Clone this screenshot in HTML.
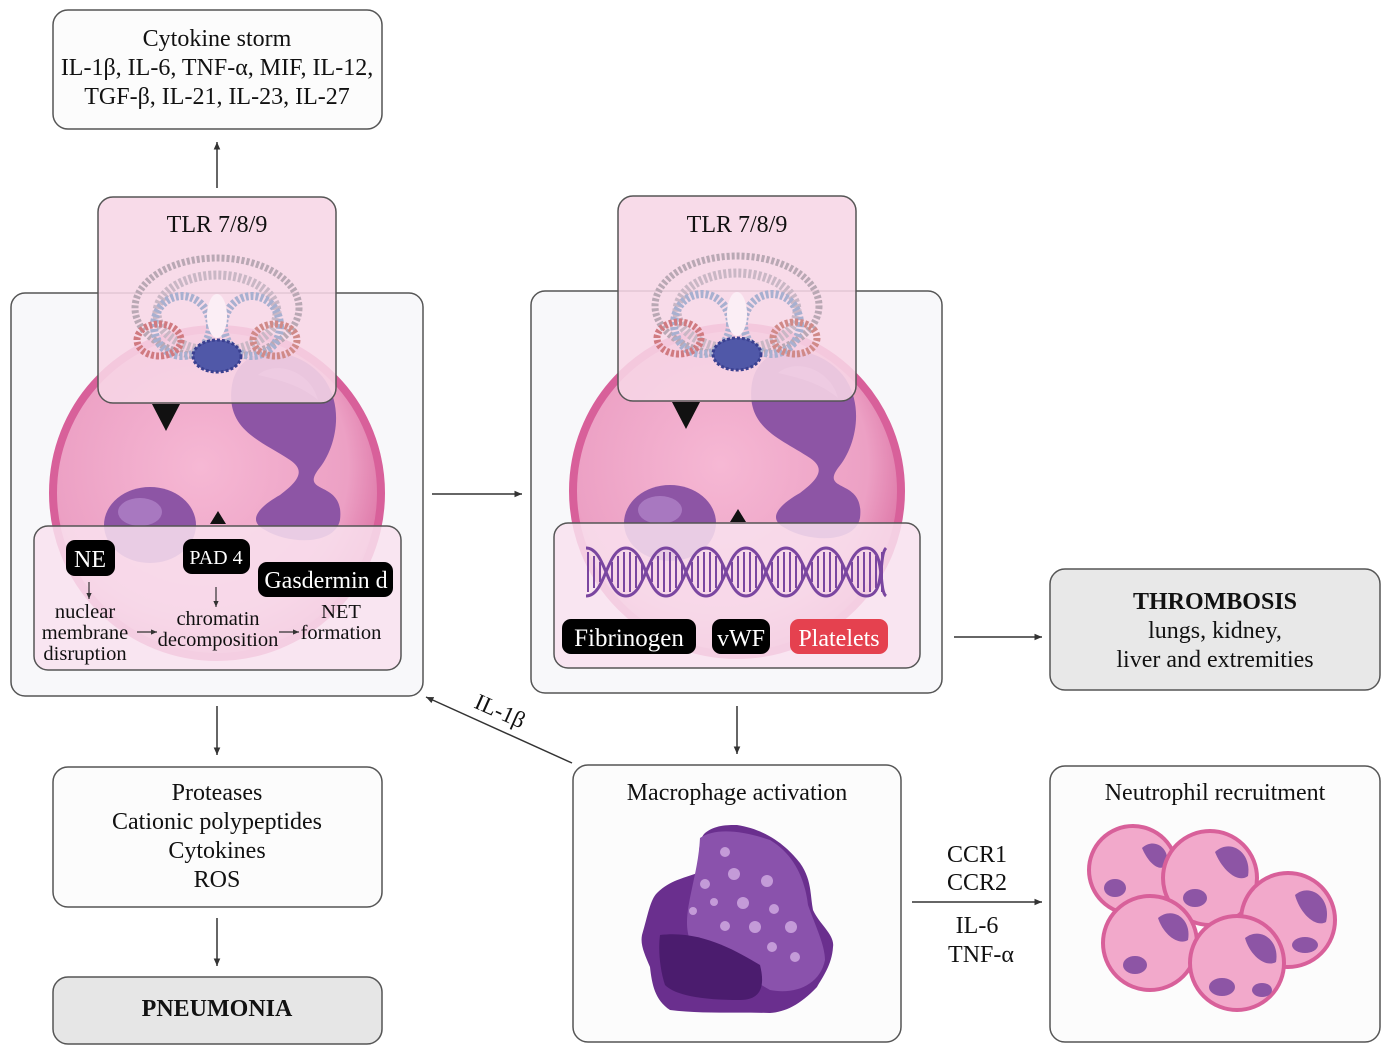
<!DOCTYPE html>
<html><head><meta charset="utf-8"><style>
html,body{margin:0;padding:0;background:#fff;}
svg{display:block;}
text{font-family:"Liberation Serif",serif;fill:#111;}
</style></head><body>
<svg width="1388" height="1050" viewBox="0 0 1388 1050" xmlns="http://www.w3.org/2000/svg">
<defs>
<marker id="ah" markerWidth="6" markerHeight="6" refX="5" refY="3" orient="auto"><path d="M0,0.8 L5,3 L0,5.2z" fill="#333"/></marker>
<radialGradient id="cellg" cx="0.45" cy="0.42" r="0.6"><stop offset="0" stop-color="#f6b8d4"/><stop offset="0.75" stop-color="#eca0c4"/><stop offset="1" stop-color="#db6fa2"/></radialGradient>
<g id="cell">
<circle cx="217" cy="493" r="164" fill="url(#cellg)"/>
<circle cx="217" cy="493" r="164" fill="none" stroke="#d8609a" stroke-width="8"/>
<path d="M232,385 C240,340 300,345 325,380 C345,410 335,450 318,470 C300,495 345,480 340,520 C335,545 290,545 265,530 C245,520 262,505 280,495 C300,480 305,470 290,460 C260,440 225,430 232,385z" fill="#8d55a5"/>
<path d="M258,375 C275,360 310,370 318,400 C300,385 280,380 258,375z" fill="#a878c0"/>
<ellipse cx="150" cy="525" rx="46" ry="38" fill="#8d55a5"/>
<ellipse cx="140" cy="512" rx="22" ry="14" fill="#a878c0"/>
</g>
<g id="tlr">
<ellipse cx="0" cy="0" rx="82" ry="50" fill="none" stroke="#b9a8b4" stroke-width="7" stroke-dasharray="3 2"/>
<ellipse cx="0" cy="5" rx="60" ry="38" fill="none" stroke="#c9b7c5" stroke-width="9" stroke-dasharray="3 2"/>
<ellipse cx="-35" cy="18" rx="28" ry="30" fill="none" stroke="#a8b0d0" stroke-width="8" stroke-dasharray="3 2"/>
<ellipse cx="35" cy="18" rx="28" ry="30" fill="none" stroke="#a8b0d0" stroke-width="8" stroke-dasharray="3 2"/>
<ellipse cx="-58" cy="32" rx="22" ry="16" fill="none" stroke="#d07a80" stroke-width="7" stroke-dasharray="3 2"/>
<ellipse cx="58" cy="32" rx="22" ry="16" fill="none" stroke="#d08a88" stroke-width="7" stroke-dasharray="3 2"/>
<ellipse cx="0" cy="48" rx="24" ry="16" fill="#5058a8" stroke="#3a4090" stroke-width="3" stroke-dasharray="3 2"/>
<ellipse cx="0" cy="8" rx="10" ry="22" fill="#fbeef5"/>
</g>
</defs>

<rect x="53" y="10" width="329" height="119" rx="15" fill="#fcfcfc" stroke="#555" stroke-width="1.5"/>
<text x="217" y="46" font-size="24" text-anchor="middle">Cytokine storm</text>
<text x="217" y="75" font-size="24" text-anchor="middle">IL-1β, IL-6, TNF-α, MIF, IL-12,</text>
<text x="217" y="104" font-size="24" text-anchor="middle">TGF-β, IL-21, IL-23, IL-27</text>
<line x1="217" y1="188" x2="217" y2="142" stroke="#333" stroke-width="1.5" marker-end="url(#ah)"/>

<rect x="11" y="293" width="412" height="403" rx="14" fill="#f8f8fa" stroke="#555" stroke-width="1.5"/>
<use href="#cell"/>
<rect x="98" y="197" width="238" height="206" rx="15" fill="#f7d6e6" fill-opacity="0.88" stroke="#555" stroke-width="1.5"/>
<text x="217" y="232" font-size="24" text-anchor="middle">TLR 7/8/9</text>
<use href="#tlr" transform="translate(217,308)"/>
<path d="M152,404 L180,404 L166,431z" fill="#111"/>
<path d="M210,524 L226,524 L218,511z" fill="#111"/>
<rect x="34" y="526" width="367" height="144" rx="14" fill="#f9e2ee" fill-opacity="0.85" stroke="#555" stroke-width="1.5"/>
<rect x="66" y="540" width="49" height="36" rx="9" fill="#000"/>
<text x="90" y="567" font-size="24" text-anchor="middle" style="fill:#fff">NE</text>
<rect x="183" y="539" width="67" height="35" rx="9" fill="#000"/>
<text x="216" y="564" font-size="20" text-anchor="middle" style="fill:#fff">PAD 4</text>
<rect x="258" y="562" width="135" height="35" rx="9" fill="#000"/>
<text x="326" y="588" font-size="24" text-anchor="middle" style="fill:#fff">Gasdermin d</text>
<line x1="89" y1="582" x2="89" y2="599" stroke="#333" stroke-width="1.2" marker-end="url(#ah)"/>
<line x1="216" y1="587" x2="216" y2="607" stroke="#333" stroke-width="1.2" marker-end="url(#ah)"/>
<text x="85" y="618" font-size="20.5" text-anchor="middle">nuclear</text>
<text x="85" y="639" font-size="20.5" text-anchor="middle">membrane</text>
<text x="85" y="660" font-size="20.5" text-anchor="middle">disruption</text>
<text x="218" y="625" font-size="20.5" text-anchor="middle">chromatin</text>
<text x="218" y="646" font-size="20.5" text-anchor="middle">decomposition</text>
<text x="341" y="618" font-size="20.5" text-anchor="middle">NET</text>
<text x="341" y="639" font-size="20.5" text-anchor="middle">formation</text>
<line x1="137" y1="632" x2="157" y2="632" stroke="#333" stroke-width="1.2" marker-end="url(#ah)"/>
<line x1="279" y1="632" x2="299" y2="632" stroke="#333" stroke-width="1.2" marker-end="url(#ah)"/>

<line x1="432" y1="494" x2="522" y2="494" stroke="#333" stroke-width="1.5" marker-end="url(#ah)"/>

<rect x="531" y="291" width="411" height="402" rx="14" fill="#f8f8fa" stroke="#555" stroke-width="1.5"/>
<use href="#cell" transform="translate(520,-2)"/>
<rect x="618" y="196" width="238" height="205" rx="15" fill="#f7d6e6" fill-opacity="0.88" stroke="#555" stroke-width="1.5"/>
<text x="737" y="232" font-size="24" text-anchor="middle">TLR 7/8/9</text>
<use href="#tlr" transform="translate(737,306)"/>
<path d="M672,402 L700,402 L686,429z" fill="#111"/>
<path d="M730,522 L746,522 L738,509z" fill="#111"/>
<rect x="554" y="523" width="366" height="145" rx="14" fill="#f9e2ee" fill-opacity="0.85" stroke="#555" stroke-width="1.5"/>
<g stroke="#7a46a0" stroke-width="3" fill="none">
<path d="M586,548 C606,548 606,596 626,596 S646,548 666,548 S686,596 706,596 S726,548 746,548 S766,596 786,596 S806,548 826,548 S846,596 866,596 S878,556 886,548"/>
<path d="M586,596 C606,596 606,548 626,548 S646,596 666,596 S686,548 706,548 S726,596 746,596 S766,548 786,548 S806,596 826,596 S846,548 866,548 S878,590 886,596"/>
</g>
<g stroke="#7a46a0" stroke-width="2">
<path d="M588,552V592M594,556V588M600,562V582M612,562V582M618,556V588M624,552V592M630,552V592M636,556V588M642,562V582M652,562V582M658,556V588M664,552V592M670,552V592M676,556V588M682,562V582M692,562V582M698,556V588M704,552V592M710,552V592M716,556V588M722,562V582M732,562V582M738,556V588M744,552V592M750,552V592M756,556V588M762,562V582M772,562V582M778,556V588M784,552V592M790,552V592M796,556V588M802,562V582M812,562V582M818,556V588M824,552V592M830,552V592M836,556V588M842,562V582M852,562V582M858,556V588M864,552V592M870,552V592M876,556V588M882,552V592"/>
</g>
<rect x="562" y="619" width="134" height="35" rx="9" fill="#000"/>
<text x="629" y="646" font-size="25" text-anchor="middle" style="fill:#fff">Fibrinogen</text>
<rect x="712" y="619" width="58" height="35" rx="9" fill="#000"/>
<text x="741" y="646" font-size="24" text-anchor="middle" style="fill:#fff">vWF</text>
<rect x="790" y="619" width="98" height="35" rx="9" fill="#e5414f"/>
<text x="839" y="646" font-size="24" text-anchor="middle" style="fill:#fff">Platelets</text>

<line x1="954" y1="637" x2="1042" y2="637" stroke="#333" stroke-width="1.5" marker-end="url(#ah)"/>
<rect x="1050" y="569" width="330" height="121" rx="15" fill="#e8e8e8" stroke="#555" stroke-width="1.5"/>
<text x="1215" y="609" font-size="24" font-weight="bold" text-anchor="middle">THROMBOSIS</text>
<text x="1215" y="638" font-size="24" text-anchor="middle">lungs, kidney,</text>
<text x="1215" y="667" font-size="24" text-anchor="middle">liver and extremities</text>

<line x1="217" y1="706" x2="217" y2="755" stroke="#333" stroke-width="1.5" marker-end="url(#ah)"/>
<line x1="737" y1="706" x2="737" y2="754" stroke="#333" stroke-width="1.5" marker-end="url(#ah)"/>
<line x1="572" y1="763" x2="426" y2="697" stroke="#333" stroke-width="1.5" marker-end="url(#ah)"/>
<text x="0" y="0" font-size="23" text-anchor="middle" transform="translate(497,718) rotate(24)">IL-1β</text>

<rect x="53" y="767" width="329" height="140" rx="15" fill="#fcfcfc" stroke="#555" stroke-width="1.5"/>
<text x="217" y="800" font-size="24" text-anchor="middle">Proteases</text>
<text x="217" y="829" font-size="24" text-anchor="middle">Cationic polypeptides</text>
<text x="217" y="858" font-size="24" text-anchor="middle">Cytokines</text>
<text x="217" y="887" font-size="24" text-anchor="middle">ROS</text>
<line x1="217" y1="918" x2="217" y2="966" stroke="#333" stroke-width="1.5" marker-end="url(#ah)"/>
<rect x="53" y="977" width="329" height="67" rx="15" fill="#e6e6e6" stroke="#555" stroke-width="1.5"/>
<text x="217" y="1016" font-size="24" font-weight="bold" text-anchor="middle">PNEUMONIA</text>

<rect x="573" y="765" width="328" height="277" rx="15" fill="#fcfcfc" stroke="#555" stroke-width="1.5"/>
<text x="737" y="800" font-size="24" text-anchor="middle">Macrophage activation</text>
<path d="M737,825 C770,830 790,850 800,863 C812,880 810,895 813,910 C820,925 835,935 833,947 C832,965 822,978 817,987 C800,1005 785,1012 770,1013 C740,1012 700,1014 670,1010 C655,1000 652,985 650,967 C645,955 640,945 642,935 C648,915 650,900 657,893 C670,880 685,878 697,873 C700,860 697,840 705,833 C715,825 727,825 737,825z" fill="#6a2f8e"/>
<path d="M700,838 C715,828 740,830 770,840 C795,855 805,880 808,905 C815,925 825,945 825,960 C820,985 795,995 770,990 C745,975 710,960 690,940 C680,915 698,880 700,838z" fill="#8a52ac"/>
<path d="M660,935 C700,930 735,950 760,965 C765,985 762,1000 740,1000 C700,1000 675,995 665,985 C660,970 658,950 660,935z" fill="#4b1c6e"/>
<g fill="#c49bd8"><circle cx="725" cy="852" r="5"/><circle cx="734" cy="874" r="6"/><circle cx="767" cy="881" r="6"/><circle cx="705" cy="884" r="5"/><circle cx="714" cy="902" r="4"/><circle cx="743" cy="903" r="6"/><circle cx="774" cy="909" r="5"/><circle cx="693" cy="911" r="4"/><circle cx="725" cy="926" r="5"/><circle cx="755" cy="927" r="6"/><circle cx="791" cy="927" r="6"/><circle cx="772" cy="947" r="5"/><circle cx="795" cy="957" r="5"/></g>

<line x1="912" y1="902" x2="1042" y2="902" stroke="#333" stroke-width="1.5" marker-end="url(#ah)"/>
<text x="977" y="862" font-size="24" text-anchor="middle">CCR1</text>
<text x="977" y="890" font-size="24" text-anchor="middle">CCR2</text>
<text x="977" y="933" font-size="24" text-anchor="middle">IL-6</text>
<text x="981" y="962" font-size="24" text-anchor="middle">TNF-α</text>

<rect x="1050" y="766" width="330" height="276" rx="15" fill="#fcfcfc" stroke="#555" stroke-width="1.5"/>
<text x="1215" y="800" font-size="24" text-anchor="middle">Neutrophil recruitment</text>
<g stroke="#d8609a" stroke-width="4">
<circle cx="1133" cy="870" r="44" fill="#f2a9cb"/>
<path d="M1142,848 C1155,836 1172,850 1166,866 C1158,872 1148,862 1142,848z" fill="#8d55a5" stroke="none"/>
<ellipse cx="1115" cy="888" rx="11" ry="9" fill="#8d55a5" stroke="none"/>
<circle cx="1210" cy="878" r="47" fill="#f2a9cb"/>
<path d="M1215,852 C1230,838 1252,852 1248,876 C1238,884 1222,870 1215,852z" fill="#8d55a5" stroke="none"/>
<ellipse cx="1195" cy="898" rx="12" ry="9" fill="#8d55a5" stroke="none"/>
<circle cx="1288" cy="920" r="47" fill="#f2a9cb"/>
<path d="M1295,895 C1310,882 1332,898 1326,922 C1316,928 1300,914 1295,895z" fill="#8d55a5" stroke="none"/>
<ellipse cx="1305" cy="945" rx="13" ry="8" fill="#8d55a5" stroke="none"/>
<circle cx="1150" cy="943" r="47" fill="#f2a9cb"/>
<path d="M1158,918 C1172,906 1192,918 1188,940 C1178,946 1163,934 1158,918z" fill="#8d55a5" stroke="none"/>
<ellipse cx="1135" cy="965" rx="12" ry="9" fill="#8d55a5" stroke="none"/>
<circle cx="1237" cy="963" r="47" fill="#f2a9cb"/>
<path d="M1245,938 C1260,926 1280,940 1276,962 C1266,968 1250,956 1245,938z" fill="#8d55a5" stroke="none"/>
<ellipse cx="1222" cy="987" rx="13" ry="9" fill="#8d55a5" stroke="none"/>
<ellipse cx="1262" cy="990" rx="10" ry="7" fill="#8d55a5" stroke="none"/>
</g>
</svg>
</body></html>
